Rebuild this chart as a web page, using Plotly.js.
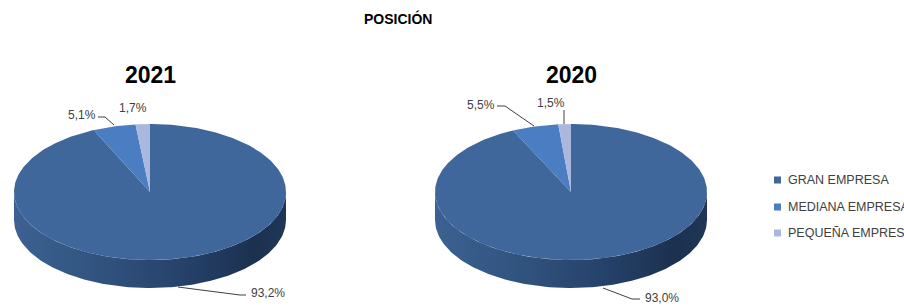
<!DOCTYPE html>
<html>
<head>
<meta charset="utf-8">
<script src="https://cdn.plot.ly/plotly-3.0.1.min.js"></script>
<style>html,body{margin:0;padding:0;background:#fff;}#chart{width:904px;height:306px;}</style>
</head>
<body>
<div id="chart"></div>
<script>
// ---- data ----
const chartTitle = 'POSICIÓN';
const categories = ['GRAN EMPRESA', 'MEDIANA EMPRESA', 'PEQUEÑA EMPRESA'];
const years = ['2021', '2020'];
const values2021 = [93.2, 5.1, 1.7];
const values2020 = [93.0, 5.5, 1.5];

// ---- styles / layout positions ----
const topColors = ['#40679b', '#4a7dc1', '#a9b8dc'];
const sideColors = ['#2c4b76', '#2f5a91', '#7d8fb8'];
const pies = [
  {cx: 150, cy: 192, values: values2021, year: years[0],
   labels: [{x: 268, y: 293}, {x: 82, y: 115}, {x: 133, y: 108}],
   leaders: ['M178,287 L240,295 L246,295', 'M98,117 L105,117 L114,125']},
  {cx: 571, cy: 192, values: values2020, year: years[1],
   labels: [{x: 662, y: 298}, {x: 481, y: 105}, {x: 551, y: 103}],
   leaders: ['M603,288 L632,299 L640,299', 'M497,106 L505,106 L534,126', 'M564,110 L564,124']}
];
const RX = 136, RY = 68, DEPTH = 28;

function pt(p, deg, dy) {
  const t = deg * Math.PI / 180;
  return [p.cx + RX * Math.sin(t), p.cy - RY * Math.cos(t) + (dy || 0)];
}

const traces = [];
// side faces first
pies.forEach(p => {
  const total = p.values.reduce((a, b) => a + b, 0);
  let start = 0;
  p.values.forEach((v, i) => {
    const end = start + v / total * 360;
    const a0 = Math.max(start, 90), a1 = Math.min(end, 270);
    if (a1 > a0) {
      const xs = [], ys = [];
      const n = Math.max(2, Math.ceil(a1 - a0));
      for (let k = 0; k <= n; k++) { const q = pt(p, a0 + (a1 - a0) * k / n, 0); xs.push(q[0]); ys.push(q[1]); }
      for (let k = n; k >= 0; k--) { const q = pt(p, a0 + (a1 - a0) * k / n, DEPTH); xs.push(q[0]); ys.push(q[1]); }
      xs.push(xs[0]); ys.push(ys[0]);
      const tr = {type: 'scatter', mode: 'lines', x: xs, y: ys, fill: 'toself',
        line: {width: 0, color: sideColors[i]}, fillcolor: sideColors[i], hoverinfo: 'skip'};
      if (i === 0) {
        tr.fillgradient = {type: 'horizontal', colorscale: [[0, '#3c6192'], [0.3, '#31547f'], [0.6, '#26436b'], [0.88, '#1c3150'], [1, '#1f3656']]};
      }
      traces.push(tr);
    }
    start = end;
  });
});
// top faces
pies.forEach(p => {
  const total = p.values.reduce((a, b) => a + b, 0);
  let start = 0;
  p.values.forEach((v, i) => {
    const end = start + v / total * 360;
    const xs = [p.cx], ys = [p.cy];
    const n = Math.max(2, Math.ceil(end - start));
    for (let k = 0; k <= n; k++) { const q = pt(p, start + (end - start) * k / n); xs.push(q[0]); ys.push(q[1]); }
    xs.push(p.cx); ys.push(p.cy);
    traces.push({type: 'scatter', mode: 'lines', x: xs, y: ys, fill: 'toself',
      line: {width: 0, color: topColors[i]}, fillcolor: topColors[i], hoverinfo: 'skip'});
    start = end;
  });
});

const fmt = v => v.toFixed(1).replace('.', ',') + '%';
const annotations = [{text: '<b>' + chartTitle + '</b>', x: 398, y: 18, xref: 'x', yref: 'y', showarrow: false,
  font: {family: 'Liberation Sans, Arial, sans-serif', size: 14, color: '#000'}}];
const shapes = [];
pies.forEach(p => {
  annotations.push({text: '<b>' + p.year + '</b>', x: p.cx, y: 75, xref: 'x', yref: 'y', showarrow: false,
    font: {family: 'Liberation Sans, Arial, sans-serif', size: 23, color: '#000'}});
  p.values.forEach((v, i) => {
    annotations.push({text: fmt(v), x: p.labels[i].x, y: p.labels[i].y, xref: 'x', yref: 'y', showarrow: false,
      font: {family: 'Liberation Sans, Arial, sans-serif', size: 12, color: '#404040'}});
  });
  p.leaders.forEach(d => shapes.push({type: 'path', path: d, xref: 'x', yref: 'y', line: {color: '#404040', width: 1}}));
});
// legend
const legendY = [180, 207, 233];
categories.forEach((c, i) => {
  shapes.push({type: 'rect', xref: 'x', yref: 'y', x0: 774, x1: 781, y0: legendY[i] - 3.5, y1: legendY[i] + 3.5,
    fillcolor: topColors[i], line: {width: 0}});
  annotations.push({text: c, x: 786, y: legendY[i], xref: 'x', yref: 'y', xanchor: 'left', showarrow: false,
    font: {family: 'Liberation Sans, Arial, sans-serif', size: 12.5, color: '#404040'}});
});

const layout = {
  width: 904, height: 306, margin: {l: 0, r: 0, t: 0, b: 0},
  paper_bgcolor: '#fff', plot_bgcolor: '#fff', showlegend: false,
  xaxis: {range: [0, 904], visible: false, fixedrange: true},
  yaxis: {range: [306, 0], visible: false, fixedrange: true},
  annotations: annotations, shapes: shapes
};
Plotly.newPlot('chart', traces, layout, {staticPlot: true, displayModeBar: false});
</script>
</body>
</html>
